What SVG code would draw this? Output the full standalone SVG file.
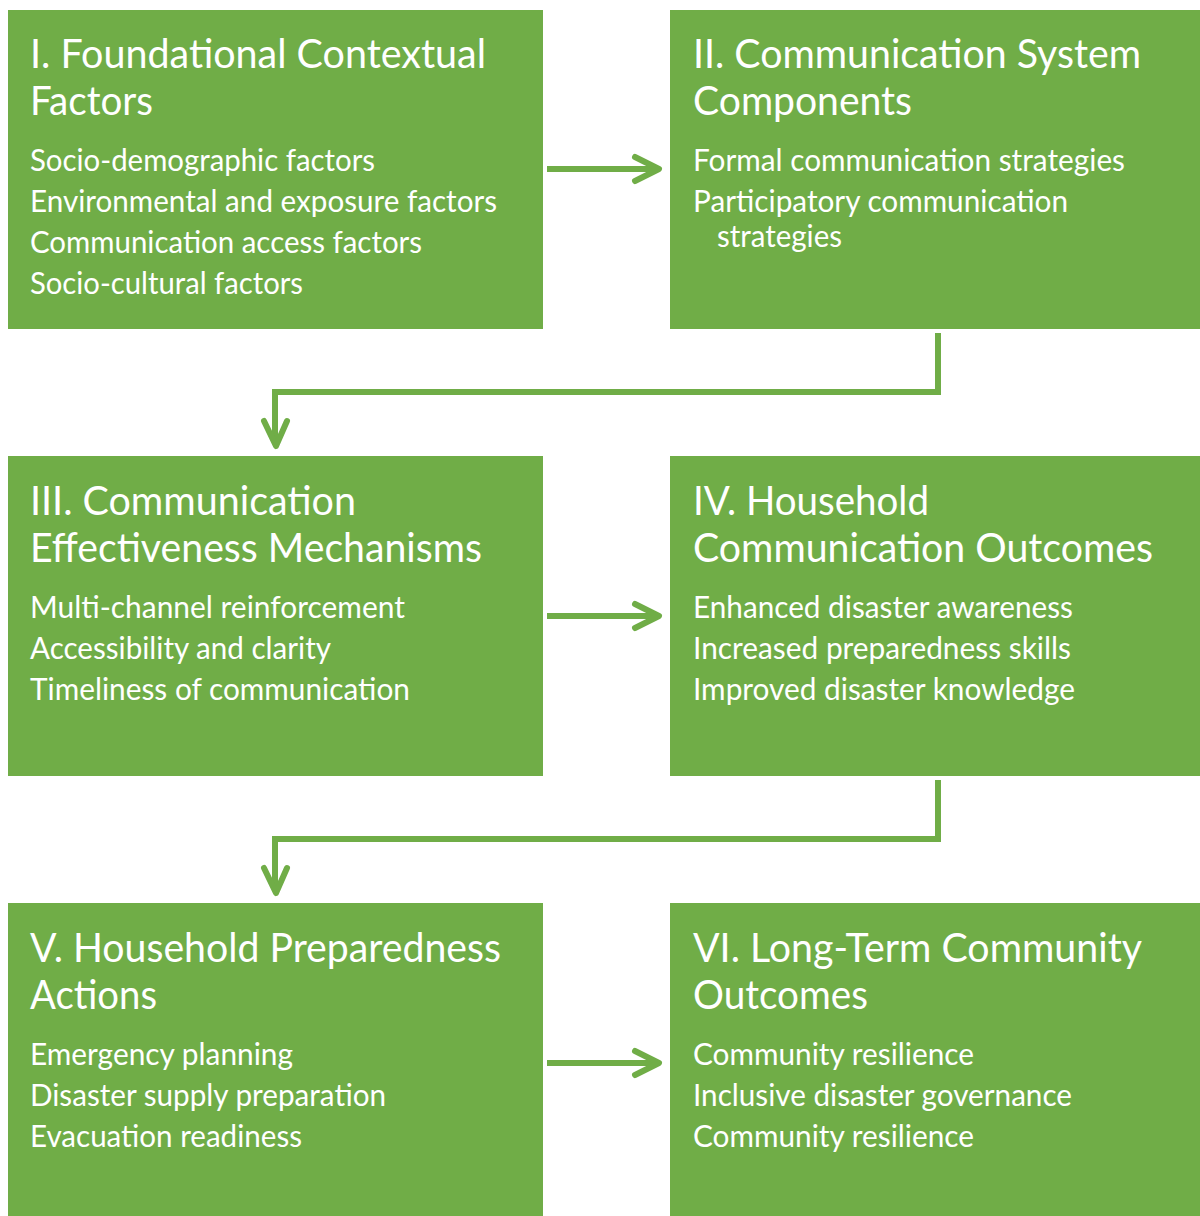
<svg xmlns="http://www.w3.org/2000/svg" width="1200" height="1216" viewBox="0 0 1200 1216">
<defs>
<style>
.box{fill:#70AD47;}
.t{font-family:Lato,"Open Sans","Liberation Sans",sans-serif;fill:#FFFFFF;font-size:40px;}
.i{font-family:Lato,"Open Sans","Liberation Sans",sans-serif;fill:#FFFFFF;font-size:30px;}
.c{fill:none;stroke:#70AD47;stroke-width:6;}
.h{fill:none;stroke:#70AD47;stroke-width:6;stroke-linecap:round;stroke-linejoin:round;}
</style>
</defs>
<rect width="1200" height="1216" fill="#FFFFFF"/>
<g id="node1">
<rect class="box" x="8" y="10" width="535" height="319"/>
<text class="t" x="30" y="68" textLength="456" lengthAdjust="spacingAndGlyphs">I. Foundational Contextual</text>
<text class="t" x="30" y="115" textLength="123" lengthAdjust="spacingAndGlyphs">Factors</text>
<text class="i" x="30" y="171" textLength="345" lengthAdjust="spacingAndGlyphs">Socio-demographic factors</text>
<text class="i" x="30" y="212" textLength="467" lengthAdjust="spacingAndGlyphs">Environmental and exposure factors</text>
<text class="i" x="30" y="253" textLength="392" lengthAdjust="spacingAndGlyphs">Communication access factors</text>
<text class="i" x="30" y="294" textLength="273" lengthAdjust="spacingAndGlyphs">Socio-cultural factors</text>
</g>
<g id="node2">
<rect class="box" x="670" y="10" width="530" height="319"/>
<text class="t" x="693" y="68" textLength="448" lengthAdjust="spacingAndGlyphs">II. Communication System</text>
<text class="t" x="693" y="115" textLength="219" lengthAdjust="spacingAndGlyphs">Components</text>
<text class="i" x="693" y="171" textLength="432" lengthAdjust="spacingAndGlyphs">Formal communication strategies</text>
<text class="i" x="693" y="212" textLength="375" lengthAdjust="spacingAndGlyphs">Participatory communication</text>
<text class="i" x="717" y="247" textLength="125" lengthAdjust="spacingAndGlyphs">strategies</text>
</g>
<g id="node3">
<rect class="box" x="8" y="456" width="535" height="320"/>
<text class="t" x="30" y="515" textLength="326" lengthAdjust="spacingAndGlyphs">III. Communication</text>
<text class="t" x="30" y="562" textLength="452" lengthAdjust="spacingAndGlyphs">Effectiveness Mechanisms</text>
<text class="i" x="30" y="618" textLength="375" lengthAdjust="spacingAndGlyphs">Multi-channel reinforcement</text>
<text class="i" x="30" y="659" textLength="301" lengthAdjust="spacingAndGlyphs">Accessibility and clarity</text>
<text class="i" x="30" y="700" textLength="380" lengthAdjust="spacingAndGlyphs">Timeliness of communication</text>
</g>
<g id="node4">
<rect class="box" x="670" y="456" width="530" height="320"/>
<text class="t" x="693" y="515" textLength="236" lengthAdjust="spacingAndGlyphs">IV. Household</text>
<text class="t" x="693" y="562" textLength="460" lengthAdjust="spacingAndGlyphs">Communication Outcomes</text>
<text class="i" x="693" y="618" textLength="380" lengthAdjust="spacingAndGlyphs">Enhanced disaster awareness</text>
<text class="i" x="693" y="659" textLength="378" lengthAdjust="spacingAndGlyphs">Increased preparedness skills</text>
<text class="i" x="693" y="700" textLength="382" lengthAdjust="spacingAndGlyphs">Improved disaster knowledge</text>
</g>
<g id="node5">
<rect class="box" x="8" y="903" width="535" height="313"/>
<text class="t" x="30" y="962" textLength="471" lengthAdjust="spacingAndGlyphs">V. Household Preparedness</text>
<text class="t" x="30" y="1009" textLength="127" lengthAdjust="spacingAndGlyphs">Actions</text>
<text class="i" x="30" y="1065" textLength="263" lengthAdjust="spacingAndGlyphs">Emergency planning</text>
<text class="i" x="30" y="1106" textLength="356" lengthAdjust="spacingAndGlyphs">Disaster supply preparation</text>
<text class="i" x="30" y="1147" textLength="272" lengthAdjust="spacingAndGlyphs">Evacuation readiness</text>
</g>
<g id="node6">
<rect class="box" x="670" y="903" width="530" height="313"/>
<text class="t" x="693" y="962" textLength="449" lengthAdjust="spacingAndGlyphs">VI. Long-Term Community</text>
<text class="t" x="693" y="1009" textLength="175" lengthAdjust="spacingAndGlyphs">Outcomes</text>
<text class="i" x="693" y="1065" textLength="281" lengthAdjust="spacingAndGlyphs">Community resilience</text>
<text class="i" x="693" y="1106" textLength="379" lengthAdjust="spacingAndGlyphs">Inclusive disaster governance</text>
<text class="i" x="693" y="1147" textLength="281" lengthAdjust="spacingAndGlyphs">Community resilience</text>
</g>
<g id="connectors">
<line class="c" x1="547" y1="169" x2="657" y2="169"/>
<polyline class="h" points="635,157 659,169 635,181"/>
<line class="c" x1="547" y1="616" x2="657" y2="616"/>
<polyline class="h" points="635,604 659,616 635,628"/>
<line class="c" x1="547" y1="1063" x2="657" y2="1063"/>
<polyline class="h" points="635,1051 659,1063 635,1075"/>
<polyline class="c" points="938,333 938,392 275,392 275,444"/>
<polyline class="h" points="264,421 276,446 287,421"/>
<polyline class="c" points="938,780 938,839 275,839 275,891"/>
<polyline class="h" points="264,868 276,893 287,868"/>
</g>
</svg>
